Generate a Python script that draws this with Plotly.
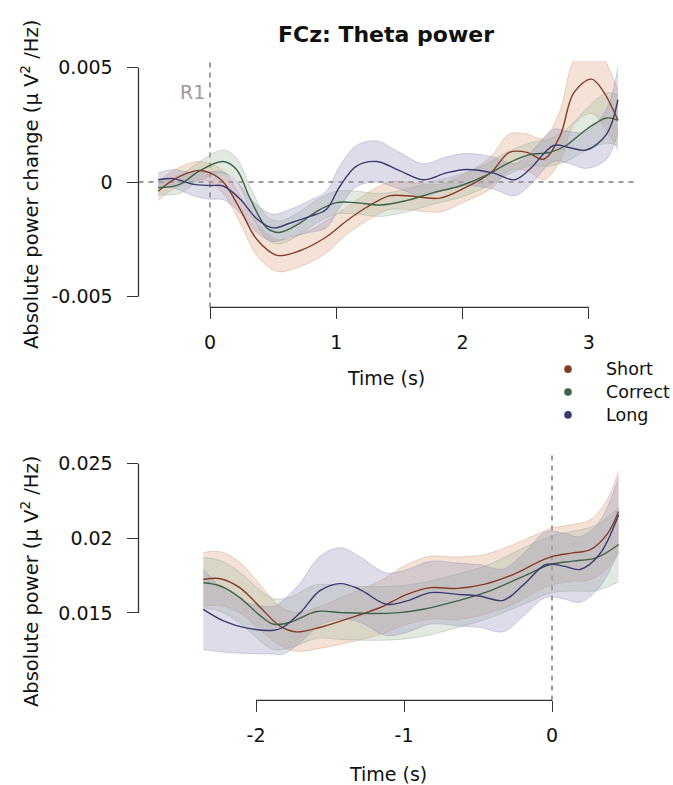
import plotly.graph_objects as go

W, H = 673, 785

# ---------------- Data: top panel (R1-locked, absolute power change) ----------------
t_short_top = [-0.41, -0.29, -0.105, 0.0, 0.105, 0.24, 0.37, 0.53, 0.71, 0.92, 1.08, 1.24, 1.42, 1.56,
               1.82, 2.0, 2.22, 2.37, 2.51, 2.64, 2.77, 2.88, 3.02, 3.11, 3.23]
v_short_top = [-0.0004, 0.0001, 0.0005, 0.0004, 0.0, -0.0012, -0.0025, -0.0032, -0.003, -0.0024, -0.0017,
               -0.0011, -0.0006, -0.0006, -0.0007, -0.0003, 0.0004, 0.0013, 0.0013, 0.001, 0.002, 0.0039,
               0.0045, 0.004, 0.0027]
e_short_top = [0.0004, 0.0004, 0.0004, 0.0004, 0.0005, 0.0006, 0.0007, 0.0007, 0.0007, 0.0007, 0.0006,
               0.0006, 0.0006, 0.0006, 0.0006, 0.0006, 0.0007, 0.0008, 0.0008, 0.0009, 0.0011, 0.0014,
               0.0015, 0.0015, 0.0013]

t_correct_top = [-0.41, -0.24, -0.08, 0.105, 0.21, 0.32, 0.45, 0.55, 0.71, 0.84, 1.0, 1.16, 1.35, 1.56,
                 1.77, 1.98, 2.19, 2.35, 2.53, 2.69, 2.82, 2.98, 3.14, 3.23]
v_correct_top = [-0.00025, -0.0001, 0.0005, 0.0009, 0.00055, -0.00075, -0.002, -0.0022, -0.0018, -0.0013,
                 -0.0009, -0.0009, -0.001, -0.0008, -0.00046, -0.00017, 0.0003, 0.0008, 0.0012, 0.0013,
                 0.0016, 0.0023, 0.0028, 0.0027]
e_correct_top = [0.0003, 0.0004, 0.0004, 0.0005, 0.0005, 0.0005, 0.0005, 0.0005, 0.0005, 0.0005, 0.0005,
                 0.0005, 0.0005, 0.0005, 0.0005, 0.0005, 0.0005, 0.0005, 0.0005, 0.0006, 0.0007, 0.0009,
                 0.0011, 0.0011]

t_long_top = [-0.41, -0.29, -0.13, 0.0, 0.105, 0.24, 0.37, 0.5, 0.63, 0.79, 0.92, 1.03, 1.16, 1.32, 1.5,
              1.69, 1.87, 2.03, 2.24, 2.41, 2.53, 2.72, 2.85, 2.98, 3.14, 3.23]
v_long_top = [0.0001, 0.00015, -0.0001, -0.00015, -0.00017, -0.00075, -0.0016, -0.002, -0.0018, -0.0015,
              -0.0012, -0.00017, 0.0007, 0.0009, 0.0005, 0.0001, 0.0004, 0.00055, 0.0004, 0.0001, 0.00055,
              0.0016, 0.0015, 0.0014, 0.0021, 0.0036]
e_long_top = [0.0003, 0.0004, 0.0005, 0.0006, 0.0006, 0.0006, 0.0006, 0.0006, 0.0006, 0.0007, 0.0008,
              0.0009, 0.0009, 0.0009, 0.0008, 0.0007, 0.0007, 0.0007, 0.0007, 0.0007, 0.0007, 0.0007,
              0.0007, 0.0008, 0.0011, 0.0014]

# ---------------- Data: bottom panel (absolute power) ----------------
t_short_bot = [-2.356, -2.24, -2.11, -1.97, -1.84, -1.73, -1.57, -1.39, -1.16, -0.98, -0.82, -0.64, -0.46,
               -0.26, -0.08, 0.01, 0.14, 0.26, 0.37, 0.45]
v_short_bot = [0.01724, 0.01729, 0.01669, 0.01536, 0.01413, 0.01373, 0.01402, 0.01458, 0.01536, 0.01624,
               0.01669, 0.01664, 0.01691, 0.01758, 0.01847, 0.0188, 0.01902, 0.01924, 0.02024, 0.0218]
e_short_bot = [0.0018, 0.0018, 0.0017, 0.0015, 0.0013, 0.0013, 0.0014, 0.0016, 0.0018, 0.002, 0.0021,
               0.0021, 0.002, 0.002, 0.0019, 0.0019, 0.0019, 0.002, 0.0023, 0.0027]

t_correct_bot = [-2.356, -2.24, -2.11, -1.97, -1.88, -1.77, -1.59, -1.43, -1.21, -1.03, -0.87, -0.64, -0.42,
                 -0.19, -0.01, 0.14, 0.3, 0.45]
v_correct_bot = [0.01702, 0.0168, 0.01602, 0.0148, 0.01424, 0.01436, 0.01509, 0.01502, 0.01496, 0.01502,
                 0.01524, 0.0158, 0.01647, 0.01747, 0.01824, 0.01847, 0.01869, 0.01958]
e_correct_bot = [0.0017, 0.0017, 0.0017, 0.0017, 0.0017, 0.0017, 0.0018, 0.0018, 0.0018, 0.0018, 0.0018,
                 0.0018, 0.0018, 0.0019, 0.0019, 0.002, 0.0022, 0.0025]

t_long_bot = [-2.356, -2.22, -2.06, -1.88, -1.82, -1.7, -1.57, -1.43, -1.3, -1.12, -0.98, -0.82, -0.64,
              -0.49, -0.33, -0.19, -0.04, 0.08, 0.19, 0.32, 0.45]
v_long_bot = [0.01524, 0.01447, 0.01398, 0.01384, 0.01402, 0.01502, 0.01647, 0.01696, 0.01658, 0.01558,
              0.0158, 0.01636, 0.01624, 0.01613, 0.01584, 0.01691, 0.01824, 0.01813, 0.01791, 0.01891,
              0.02158]
e_long_bot = [0.0027, 0.0021, 0.0017, 0.0016, 0.0018, 0.002, 0.0023, 0.0024, 0.0022, 0.0021, 0.0021,
              0.0021, 0.0021, 0.0021, 0.0021, 0.0021, 0.0022, 0.0022, 0.0022, 0.0022, 0.0025]

top_xticks = [0, 1, 2, 3]
top_xtick_labels = ["0", "1", "2", "3"]
top_yticks = [-0.005, 0, 0.005]
top_ytick_labels = ["-0.005", "0", "0.005"]
bot_xticks = [-2, -1, 0]
bot_xtick_labels = ["-2", "-1", "0"]
bot_yticks = [0.015, 0.02, 0.025]
bot_ytick_labels = ["0.015", "0.02", "0.025"]

names = ["Short", "Correct", "Long"]
line_colors = ["#8a3a24", "#3e6447", "#3b3a72"]
fill_colors = ["rgba(220,165,130,0.32)", "rgba(165,188,160,0.32)", "rgba(155,152,188,0.34)"]
edge_colors = ["rgba(210,150,120,0.5)", "rgba(150,175,150,0.5)", "rgba(150,148,185,0.5)"]

FONT = "DejaVu Sans, Liberation Sans, Arial, sans-serif"
REF_GREY = "#a09999"

# ---------------- Geometry (pixels -> paper) ----------------
def px(x):
    return x / W

def py(y):
    return 1 - y / H

left, right = 138.5, 640
top_top, top_bot = 57, 305
bot_top, bot_bot = 453, 700

# top: x px = 210 + 126.3 t ; y px = 179 - 23000 v
tx0 = (left - 210) / 126.3
tx1 = (right - 210) / 126.3
ty0 = (179 - top_bot) / 23000
ty1 = (179 - top_top) / 23000
# bottom: x px = 552 + 148 t ; y px = 537 - 15000 (v-0.02)
bx0 = (left - 552) / 148
bx1 = (right - 552) / 148
by0 = 0.02 + (537 - bot_bot) / 15000
by1 = 0.02 + (537 - bot_top) / 15000

fig = go.Figure()

def add_band(t, v, e, i, xa, ya):
    up = [a + b for a, b in zip(v, e)]
    lo = [a - b for a, b in zip(v, e)]
    fig.add_trace(go.Scatter(x=t, y=up, mode="lines",
                             line=dict(width=0.8, color=edge_colors[i], shape="spline", smoothing=1.0),
                             xaxis=xa, yaxis=ya, showlegend=False, hoverinfo="skip"))
    fig.add_trace(go.Scatter(x=t, y=lo, mode="lines",
                             line=dict(width=0.8, color=edge_colors[i], shape="spline", smoothing=1.0),
                             fill="tonexty", fillcolor=fill_colors[i],
                             xaxis=xa, yaxis=ya, showlegend=False, hoverinfo="skip"))

def add_line(t, v, i, xa, ya):
    fig.add_trace(go.Scatter(x=t, y=v, mode="lines",
                             line=dict(width=1.4, color=line_colors[i], shape="spline", smoothing=1.0),
                             xaxis=xa, yaxis=ya, showlegend=False, name=names[i]))

top_sets = [(t_short_top, v_short_top, e_short_top), (t_correct_top, v_correct_top, e_correct_top),
            (t_long_top, v_long_top, e_long_top)]
bot_sets = [(t_short_bot, v_short_bot, e_short_bot), (t_correct_bot, v_correct_bot, e_correct_bot),
            (t_long_bot, v_long_bot, e_long_bot)]

for i, (t, v, e) in enumerate(top_sets):
    add_band(t, v, e, i, "x", "y")
for i, (t, v, e) in enumerate(bot_sets):
    add_band(t, v, e, i, "x2", "y2")
for i, (t, v, e) in enumerate(top_sets):
    add_line(t, v, i, "x", "y")
for i, (t, v, e) in enumerate(bot_sets):
    add_line(t, v, i, "x2", "y2")

axis_common = dict(showgrid=False, zeroline=False, showline=False, ticks="outside", ticklen=11,
                   tickwidth=1.2, tickcolor="#333", tickfont=dict(family=FONT, size=19, color="#111"))

fig.update_layout(
    width=W, height=H, margin=dict(l=0, r=0, t=0, b=0),
    paper_bgcolor="white", plot_bgcolor="white",
    font=dict(family=FONT, color="#111"),
    showlegend=False,
    xaxis=dict(domain=[px(left), px(right)], range=[tx0, tx1], tickvals=top_xticks, ticktext=top_xtick_labels,
               anchor="y", ticklabelstandoff=7, **axis_common),
    yaxis=dict(domain=[py(top_bot), py(top_top)], range=[ty0, ty1], tickvals=top_yticks,
               ticktext=top_ytick_labels, anchor="x", ticklabelstandoff=10, **axis_common),
    xaxis2=dict(domain=[px(left), px(right)], range=[bx0, bx1], tickvals=bot_xticks, ticktext=bot_xtick_labels,
                anchor="y2", ticklabelstandoff=7, **axis_common),
    yaxis2=dict(domain=[py(bot_bot), py(bot_top)], range=[by0, by1], tickvals=bot_yticks,
                ticktext=bot_ytick_labels, anchor="x2", ticklabelstandoff=10, **axis_common),
)

axcol = "#333"
dash_style = dict(color=REF_GREY, width=2, dash="5px,5px")
shapes = [
    # R-style axis lines spanning first..last tick
    dict(type="line", xref="x", yref="y domain", x0=top_xticks[0], x1=top_xticks[-1], y0=0, y1=0,
         line=dict(color=axcol, width=1.3)),
    dict(type="line", xref="x domain", yref="y", x0=0, x1=0, y0=top_yticks[0], y1=top_yticks[-1],
         line=dict(color=axcol, width=1.3)),
    dict(type="line", xref="x2", yref="y2 domain", x0=bot_xticks[0], x1=bot_xticks[-1], y0=0, y1=0,
         line=dict(color=axcol, width=1.3)),
    dict(type="line", xref="x2 domain", yref="y2", x0=0, x1=0, y0=bot_yticks[0], y1=bot_yticks[-1],
         line=dict(color=axcol, width=1.3)),
    # dashed reference lines
    dict(type="line", xref="x domain", yref="y", x0=0, x1=0.995, y0=0, y1=0, line=dash_style, layer="below"),
    dict(type="line", xref="x", yref="y domain", x0=0, x1=0, y0=0, y1=1, line=dash_style, layer="below"),
    dict(type="line", xref="x2", yref="y2 domain", x0=0, x1=0, y0=0, y1=1, line=dash_style, layer="below"),
]

# custom legend (dots + text)
leg_rows = [367, 390, 413]
leg_dot_x = 568
leg_text_x = 604
annotations = []
for i, yy in enumerate(leg_rows):
    r = 3.8
    shapes.append(dict(type="circle", xref="paper", yref="paper",
                       x0=px(leg_dot_x - r), x1=px(leg_dot_x + r), y0=py(yy + r), y1=py(yy - r),
                       fillcolor=line_colors[i], line=dict(width=0)))
    annotations.append(dict(text=names[i], x=px(leg_text_x), y=py(yy), xref="paper", yref="paper",
                            showarrow=False, xanchor="left", yanchor="middle",
                            font=dict(family=FONT, size=17.5, color="#111")))

fig.update_layout(shapes=shapes)

annotations += [
    dict(text="<b>FCz: Theta power</b>", x=px(386), y=py(31), xref="paper", yref="paper", showarrow=False,
         font=dict(family=FONT, size=22, color="#111"), xanchor="center", yanchor="middle"),
    dict(text="R1", x=0, y=py(88), xref="x", yref="paper", xshift=-3, showarrow=False, xanchor="right",
         yanchor="middle", font=dict(family=FONT, size=19, color=REF_GREY)),
    dict(text="Absolute power change (μ V<sup>2</sup> /Hz)", x=px(30), y=py(182), xref="paper", yref="paper",
         textangle=-90, showarrow=False, xanchor="center", yanchor="middle",
         font=dict(family=FONT, size=19.5, color="#111")),
    dict(text="Absolute power (μ V<sup>2</sup> /Hz)", x=px(30), y=py(581), xref="paper", yref="paper",
         textangle=-90, showarrow=False, xanchor="center", yanchor="middle",
         font=dict(family=FONT, size=19.5, color="#111")),
    dict(text="Time (s)", x=px(386), y=py(376), xref="paper", yref="paper", showarrow=False,
         xanchor="center", yanchor="middle", font=dict(family=FONT, size=19, color="#111")),
    dict(text="Time (s)", x=px(388), y=py(774), xref="paper", yref="paper", showarrow=False,
         xanchor="center", yanchor="middle", font=dict(family=FONT, size=19, color="#111")),
]
fig.update_layout(annotations=annotations)

fig.write_html("out.html", config={"displayModeBar": False},
               post_script="document.body.style.margin='0';document.body.style.overflow='hidden';")
